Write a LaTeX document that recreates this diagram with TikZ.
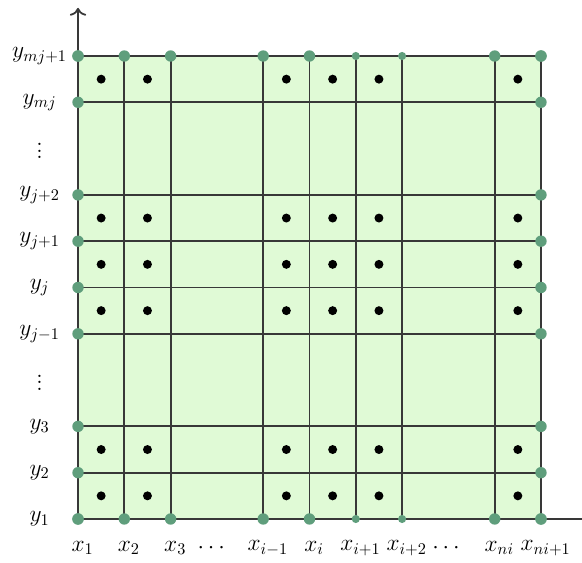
\documentclass[tikz,border=0pt]{standalone}
\usepackage{amssymb}
\usepackage{amsmath}
\usepackage{xcolor}
\definecolor{cellfill}{HTML}{E0FAD6}
\definecolor{gridgray}{HTML}{383838}
\definecolor{knotgreen}{HTML}{5F9E7C}
\usepackage{tikz}
\usetikzlibrary{arrows.meta, positioning, calc}

\begin{document}
\begin{tikzpicture}[
  gline/.style={line width=1.1pt, gridgray},
  axis/.style={line width=1.1pt, gridgray},
  knot/.style={circle, fill=knotgreen, inner sep=0pt, minimum size=7pt},
  smallknot/.style={circle, fill=knotgreen, inner sep=0pt, minimum size=5pt},
  centre/.style={circle, fill=black, inner sep=0pt, minimum size=5.5pt},
  lab/.style={font=\Large, inner sep=1pt},
  dotlab/.style={font=\Large, inner sep=0pt}
]
\useasboundingbox (-1.685,-0.95) rectangle (10.886,11.21);
% grid positions
\foreach \k/\p in {1/0,2/1,3/2,4/4,5/5,6/6,7/7,8/9,9/10} {
  \coordinate (b\k) at (\p,0);
  \coordinate (t\k) at (\p,10);
  \coordinate (l\k) at (0,\p);
  \coordinate (r\k) at (10,\p);
}
\fill[cellfill] (b1) rectangle (t9);
\foreach \k in {2,...,9} {
  \draw[gline] (b\k) -- (t\k);
  \draw[gline] (l\k) -- (r\k);
}
% axes
\coordinate (yend) at (0,11.04);
\coordinate (xend) at (10.9,0);
\draw[axis, -{To[scale=1.2]}] (b1) -- (yend);
\draw[axis] (b1) -- (xend);
% cell centres
\foreach \cx in {0.5,1.5,4.5,5.5,6.5,9.5}
  \foreach \cy in {0.5,1.5,4.5,5.5,6.5,9.5}
    \node[centre] at (\cx,\cy) {};
% knots on the border
\foreach \k in {1,...,9} {
  \node[knot] (kl\k) at (l\k) {};
  \node[knot] (kr\k) at (r\k) {};
}
\foreach \k in {1,2,3,4,5,8,9} {
  \node[knot] (kb\k) at (b\k) {};
  \node[knot] (kt\k) at (t\k) {};
}
\foreach \k in {6,7} {
  \node[smallknot] (kb\k) at (b\k) {};
  \node[smallknot] (kt\k) at (t\k) {};
}
% labels
\foreach \k/\txt in {1/x_1,2/x_2,3/x_3,4/x_{i-1},5/x_i,6/x_{i+1},7/x_{i+2},8/x_{ni},9/x_{ni+1}}
  \node[lab] (xl\k) at ($(b\k)+(0.1,-0.63)$) {$\txt$};
\foreach \k/\txt in {1/y_1,2/y_2,3/y_3,4/y_{j-1},5/y_j,6/y_{j+1},7/y_{j+2},8/y_{mj},9/y_{mj+1}}
  \node[lab] (yl\k) at ($(l\k)+(-0.83,0)$) {$\txt$};
\node[dotlab] (hdots1) at (2.92,-0.63) {$\cdots$};
\node[dotlab] (hdots2) at (7.99,-0.63) {$\cdots$};
\node[dotlab] (vdots1) at (-0.83,3.05) {$\vdots$};
\node[dotlab] (vdots2) at (-0.83,8.05) {$\vdots$};
\end{tikzpicture}
\end{document}
